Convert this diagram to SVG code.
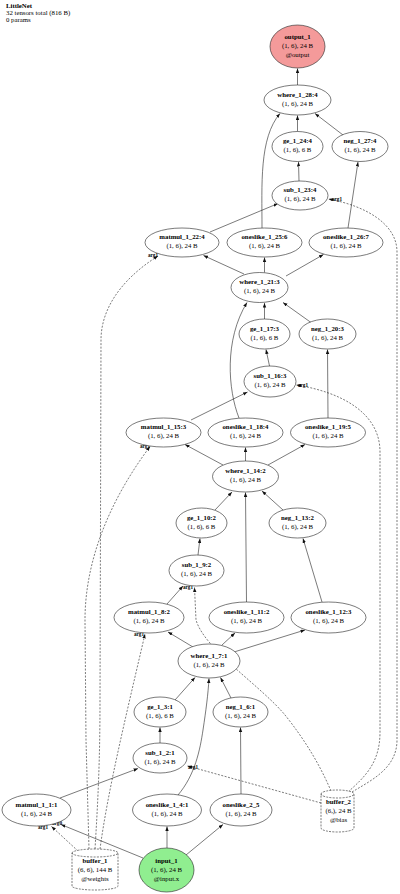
<svg xmlns="http://www.w3.org/2000/svg" width="400" height="894" viewBox="0 0 400 894">
<style>
text{font-family:"Liberation Serif","DejaVu Serif",serif;fill:#000}
.t{font-size:6.8px}
.n{font-size:6.8px;text-anchor:middle}
.b{font-weight:bold}
.l{font-size:5.2px;font-weight:bold;text-anchor:middle}
ellipse,.cyl{stroke:#222;stroke-width:0.6;fill:#fff}
.cyl{stroke-dasharray:2,1.2}
.e{fill:none;stroke:#222;stroke-width:0.6;marker-end:url(#ah)}
.d{stroke-dasharray:2,1.5}
</style>
<defs>
<marker id="ah" markerUnits="userSpaceOnUse" markerWidth="6" markerHeight="5" refX="4.5" refY="1.7" orient="auto">
<path d="M0,0 L4.5,1.7 L0,3.4 z" fill="#111"/>
</marker>
</defs>
<g id="title">
<text class="t b" x="6" y="8">LittleNet</text>
<text class="t" x="6" y="15">32 tensors total (816 B)</text>
<text class="t" x="6" y="22">0 params</text>
</g>
<g id="connectors">
<path class="e" d="M297.5,85 L297.5,68.5"/>
<path class="e" d="M297.5,131.5 L297.5,115.5"/>
<path class="e" d="M343,135 L315,113.5"/>
<path class="e" d="M262,228 C262,185 259,138 280,113.5"/>
<path class="e" d="M299,181 L298.5,162"/>
<path class="e" d="M348,228 L358,162"/>
<path class="e" d="M210,232 L278,203.5"/>
<path class="e d" d="M352,792 C372,780 397,768 397,740 L397,252 C397,224 366,206 328.5,199"/>
<path class="e" d="M244,274 L203.5,255.5"/>
<path class="e" d="M264.5,272.5 L264.5,257.5"/>
<path class="e" d="M286,276 L323.5,254.5"/>
<path class="e d" d="M95,849 C98,800 100,760 100,700 L101,340 C101,310 120,280 158,256"/>
<path class="e" d="M264.5,319 L264.5,303"/>
<path class="e" d="M311,322.5 L283,302.5"/>
<path class="e" d="M239,418 C228,390 224,340 247,302.5"/>
<path class="e" d="M269.5,366 L266,349.5"/>
<path class="e" d="M328,418 L327.5,349.5"/>
<path class="e" d="M191,420 L247.5,392"/>
<path class="e d" d="M348,792 C366,776 380,762 380,732 L380,452 C380,412 340,392 296.5,385"/>
<path class="e" d="M223,465 L185,444.5"/>
<path class="e" d="M245.5,461 L245.5,447.5"/>
<path class="e" d="M268,465 L305,444.5"/>
<path class="e d" d="M89,849 L86,740 L85,620 C85,560 110,500 150,446.5"/>
<path class="e" d="M215,510 L232,492"/>
<path class="e" d="M283,510 L262,491"/>
<path class="e" d="M246.5,602 L245.5,492.5"/>
<path class="e" d="M198,555 L200,538.5"/>
<path class="e" d="M322,602 L303,538.5"/>
<path class="e" d="M167,604 L183,586"/>
<path class="e d" d="M331,791 C320,765 305,740 285,715 C260,685 205,650 196,620 L194.5,587.5"/>
<path class="e" d="M193,647 L168,632"/>
<path class="e" d="M222,645 L235,633"/>
<path class="e" d="M234,652 L305,630"/>
<path class="e d" d="M100,849 C108,790 125,720 145,634"/>
<path class="e" d="M175,700 L195,677.5"/>
<path class="e" d="M231,698 L220.5,677.5"/>
<path class="e" d="M178,795 C195,775 200,750 203,730 C206,710 208,695 209,678.5"/>
<path class="e" d="M160,743 L160,727.5"/>
<path class="e" d="M241,794 L240.5,727.5"/>
<path class="e" d="M60,798 L138,768.5"/>
<path class="e d" d="M321,803 L187.5,766"/>
<path class="e" d="M143,858 L61,824.5"/>
<path class="e d" d="M78,851 L51.5,826.5"/>
<path class="e" d="M167,848 L167,826.5"/>
<path class="e" d="M186,855 L223,824.5"/>
<text class="l" x="153" y="257">arg1</text>
<text class="l" x="337" y="201">arg1</text>
<text class="l" x="145" y="448">arg1</text>
<text class="l" x="303" y="387">arg1</text>
<text class="l" x="188" y="589">arg1</text>
<text class="l" x="139" y="636">arg1</text>
<text class="l" x="193" y="769">arg1</text>
<text class="l" x="43" y="829">arg1</text>
<text class="l" x="57" y="825">arg0</text>
</g>
<g id="output_1"><ellipse cx="297.5" cy="46.5" rx="27.5" ry="21.5" style="fill:#F49A9A"/>
<text class="n b" x="297.5" y="39">output_1</text><text class="n" x="297.5" y="48">(1, 6), 24 B</text><text class="n" x="297.5" y="57">@output</text></g>
<g id="where_1_28_4"><ellipse cx="297.5" cy="100" rx="33.5" ry="15"/>
<text class="n b" x="297.5" y="96.5">where_1_28:4</text><text class="n" x="297.5" y="105.5">(1, 6), 24 B</text></g>
<g id="ge_1_24_4"><ellipse cx="297.5" cy="146.5" rx="25.5" ry="15"/>
<text class="n b" x="297.5" y="143">ge_1_24:4</text><text class="n" x="297.5" y="152">(1, 6), 6 B</text></g>
<g id="neg_1_27_4"><ellipse cx="360" cy="146.5" rx="28" ry="15"/>
<text class="n b" x="360" y="143">neg_1_27:4</text><text class="n" x="360" y="152">(1, 6), 24 B</text></g>
<g id="sub_1_23_4"><ellipse cx="300" cy="195.5" rx="28" ry="14.5"/>
<text class="n b" x="300" y="192">sub_1_23:4</text><text class="n" x="300" y="201">(1, 6), 24 B</text></g>
<g id="matmul_1_22_4"><ellipse cx="182" cy="242.5" rx="37" ry="14.5"/>
<text class="n b" x="182" y="239">matmul_1_22:4</text><text class="n" x="182" y="248">(1, 6), 24 B</text></g>
<g id="oneslike_1_25_6"><ellipse cx="264.5" cy="242.5" rx="37.5" ry="14.5"/>
<text class="n b" x="264.5" y="239">oneslike_1_25:6</text><text class="n" x="264.5" y="248">(1, 6), 24 B</text></g>
<g id="oneslike_1_26_7"><ellipse cx="346" cy="242.5" rx="37" ry="14.5"/>
<text class="n b" x="346" y="239">oneslike_1_26:7</text><text class="n" x="346" y="248">(1, 6), 24 B</text></g>
<g id="where_1_21_3"><ellipse cx="259.5" cy="287.5" rx="28.5" ry="15"/>
<text class="n b" x="259.5" y="284">where_1_21:3</text><text class="n" x="259.5" y="293">(1, 6), 24 B</text></g>
<g id="ge_1_17_3"><ellipse cx="264.5" cy="334" rx="25.5" ry="15"/>
<text class="n b" x="264.5" y="330.5">ge_1_17:3</text><text class="n" x="264.5" y="339.5">(1, 6), 6 B</text></g>
<g id="neg_1_20_3"><ellipse cx="327.5" cy="334" rx="28.5" ry="15"/>
<text class="n b" x="327.5" y="330.5">neg_1_20:3</text><text class="n" x="327.5" y="339.5">(1, 6), 24 B</text></g>
<g id="sub_1_16_3"><ellipse cx="270" cy="381.5" rx="26" ry="15.5"/>
<text class="n b" x="270" y="378">sub_1_16:3</text><text class="n" x="270" y="387">(1, 6), 24 B</text></g>
<g id="matmul_1_15_3"><ellipse cx="163.5" cy="432.5" rx="37.5" ry="14.5"/>
<text class="n b" x="163.5" y="429">matmul_1_15:3</text><text class="n" x="163.5" y="438">(1, 6), 24 B</text></g>
<g id="oneslike_1_18_4"><ellipse cx="245.5" cy="432.5" rx="37.5" ry="14.5"/>
<text class="n b" x="245.5" y="429">oneslike_1_18:4</text><text class="n" x="245.5" y="438">(1, 6), 24 B</text></g>
<g id="oneslike_1_19_5"><ellipse cx="328" cy="432.5" rx="37.5" ry="14.5"/>
<text class="n b" x="328" y="429">oneslike_1_19:5</text><text class="n" x="328" y="438">(1, 6), 24 B</text></g>
<g id="where_1_14_2"><ellipse cx="245.5" cy="476.5" rx="33" ry="15.5"/>
<text class="n b" x="245.5" y="473">where_1_14:2</text><text class="n" x="245.5" y="482">(1, 6), 24 B</text></g>
<g id="ge_1_10_2"><ellipse cx="201.5" cy="523" rx="25.5" ry="15"/>
<text class="n b" x="201.5" y="519.5">ge_1_10:2</text><text class="n" x="201.5" y="528.5">(1, 6), 6 B</text></g>
<g id="neg_1_13_2"><ellipse cx="297.5" cy="523" rx="28.5" ry="15"/>
<text class="n b" x="297.5" y="519.5">neg_1_13:2</text><text class="n" x="297.5" y="528.5">(1, 6), 24 B</text></g>
<g id="sub_1_9_2"><ellipse cx="196.5" cy="570.5" rx="27.5" ry="15.5"/>
<text class="n b" x="196.5" y="567">sub_1_9:2</text><text class="n" x="196.5" y="576">(1, 6), 24 B</text></g>
<g id="matmul_1_8_2"><ellipse cx="149" cy="617.5" rx="35" ry="15.5"/>
<text class="n b" x="149" y="614">matmul_1_8:2</text><text class="n" x="149" y="623">(1, 6), 24 B</text></g>
<g id="oneslike_1_11_2"><ellipse cx="246.5" cy="617.5" rx="37.5" ry="15.5"/>
<text class="n b" x="246.5" y="614">oneslike_1_11:2</text><text class="n" x="246.5" y="623">(1, 6), 24 B</text></g>
<g id="oneslike_1_12_3"><ellipse cx="328.5" cy="617.5" rx="37.5" ry="15.5"/>
<text class="n b" x="328.5" y="614">oneslike_1_12:3</text><text class="n" x="328.5" y="623">(1, 6), 24 B</text></g>
<g id="where_1_7_1"><ellipse cx="209" cy="661" rx="31" ry="17"/>
<text class="n b" x="209" y="657.5">where_1_7:1</text><text class="n" x="209" y="666.5">(1, 6), 24 B</text></g>
<g id="ge_1_3_1"><ellipse cx="160" cy="712" rx="26" ry="15"/>
<text class="n b" x="160" y="708.5">ge_1_3:1</text><text class="n" x="160" y="717.5">(1, 6), 6 B</text></g>
<g id="neg_1_6_1"><ellipse cx="240.5" cy="712" rx="27.5" ry="15"/>
<text class="n b" x="240.5" y="708.5">neg_1_6:1</text><text class="n" x="240.5" y="717.5">(1, 6), 24 B</text></g>
<g id="sub_1_2_1"><ellipse cx="160" cy="758" rx="27" ry="15"/>
<text class="n b" x="160" y="754.5">sub_1_2:1</text><text class="n" x="160" y="763.5">(1, 6), 24 B</text></g>
<g id="matmul_1_1_1"><ellipse cx="36.5" cy="810" rx="34.5" ry="16"/>
<text class="n b" x="36.5" y="806.5">matmul_1_1:1</text><text class="n" x="36.5" y="815.5">(1, 6), 24 B</text></g>
<g id="oneslike_1_4_1"><ellipse cx="167" cy="810" rx="34.5" ry="16"/>
<text class="n b" x="167" y="806.5">oneslike_1_4:1</text><text class="n" x="167" y="815.5">(1, 6), 24 B</text></g>
<g id="oneslike_2_5"><ellipse cx="241" cy="810" rx="31" ry="16"/>
<text class="n b" x="241" y="806.5">oneslike_2_5</text><text class="n" x="241" y="815.5">(1, 6), 24 B</text></g>
<g id="buffer_2"><path class="cyl" d="M321,794 A16.5,4 0 0 1 354,794 L354,828 A16.5,4 0 0 1 321,828 Z M321,794 A16.5,4 0 0 0 354,794"/>
<text class="n b" x="338.5" y="804">buffer_2</text><text class="n" x="338.5" y="813">(6,), 24 B</text><text class="n" x="338.5" y="822">@bias</text></g>
<g id="buffer_1"><path class="cyl" d="M72,853 A23,4 0 0 1 118,853 L118,886 A23,4 0 0 1 72,886 Z M72,853 A23,4 0 0 0 118,853"/>
<text class="n b" x="95" y="863">buffer_1</text><text class="n" x="95" y="872">(6, 6), 144 B</text><text class="n" x="95" y="880.6">@weights</text></g>
<g id="input_1"><ellipse cx="166.5" cy="870" rx="27.5" ry="22" style="fill:#90EE90"/>
<text class="n b" x="166.5" y="863">input_1</text><text class="n" x="166.5" y="872">(1, 6), 24 B</text><text class="n" x="166.5" y="880.6">@input.x</text></g>
</svg>
